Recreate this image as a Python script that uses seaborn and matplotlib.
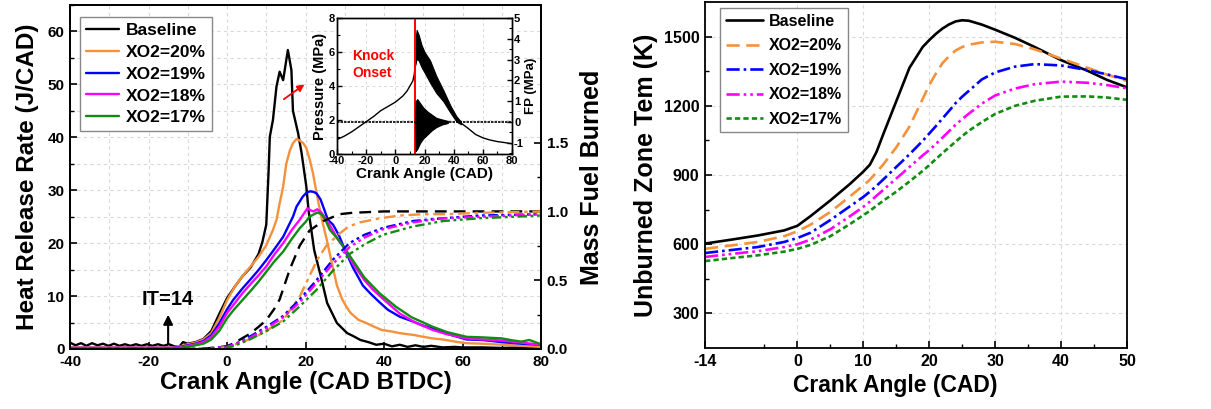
import matplotlib
matplotlib.use("Agg")
import matplotlib.pyplot as plt
from matplotlib.ticker import MultipleLocator, FixedLocator, FormatStrFormatter
import seaborn as sns

# ---------------- data ----------------
labels = ["Baseline", "XO2=20%", "XO2=19%", "XO2=18%", "XO2=17%"]
colors = ["#000000", "#F5913B", "#0000FF", "#FF00FF", "#118C11"]

# Heat release rate (J/CAD)
hrr_base_x = [-40, -38.6, -37.2, -35.8, -34.4, -33, -31.6, -30.2, -28.8, -27.4, -26, -24.6, -23.2, -21.8,
              -20.4, -19, -17.6, -16.2, -14.8, -13.4, -12.2, -11.2, -10, -8, -6, -4, -2, 0, 2, 4, 6, 8, 9, 10,
              10.6, 10.9, 11.7, 12.6, 13.4, 14.3, 15.5, 16.4, 16.8, 18.1, 19, 20.2, 20.8, 22.2, 23.9, 25.5,
              28, 30.6, 32, 34, 36, 38, 40, 42, 44, 46, 48, 50, 52, 55, 58, 60, 65, 70, 75, 80]
hrr_base_y = [1.2, 0.7, 1.1, 0.6, 1.1, 0.7, 1.0, 0.6, 1.0, 0.6, 0.9, 0.6, 0.9, 0.6, 0.9, 0.6, 0.9, 0.6, 0.9, 0.5,
              0.4, 1.3, 1.0, 1.3, 1.9, 3.4, 6.6, 9.6, 11.8, 13.8, 15.4, 17.9, 20.2, 23.5,
              33.8, 40.1, 43.3, 49.6, 52.4, 50.8, 56.5, 52.7, 45.0, 40.8, 37.0, 30.7, 26.0, 18.7, 13.7, 8.7,
              4.9, 3.0, 2.5, 1.7, 1.3, 0.8, 1.0, 0.5, 0.8, 0.4, 0.7, 0.4, 0.6, 0.3, 0.4, 0.3, 0.3, 0.2, 0.3, 0.2]

hrr_20_x = [-40, -30, -20, -14, -12, -10, -8, -6, -4, -2, 0, 2, 4, 6, 8, 10, 11.7, 12.6, 13.4, 14.3,
            15.1, 16, 16.8, 17.7, 18.5, 19.4, 20.2, 21.1, 21.9, 22.8, 24, 25.3, 26.9, 28, 29.4, 30.4, 31.5,
            33.5, 35.5, 37.5, 39.4, 42, 44, 46, 48, 50, 52.4, 55, 58, 61, 65, 70, 75, 80]
hrr_20_y = [0.3, 0.3, 0.3, 0.3, 0.5, 0.9, 1.2, 1.8, 3.0, 5.8, 9.2, 11.8, 13.8, 15.6, 17.4, 19.6, 22.5, 24.4, 27.5, 30.7,
            35.0, 37.5, 38.9, 39.7, 39.4, 38.9, 38.0, 35.7, 33.2, 29.5, 25.0, 21.0, 15.6, 12.0, 9.3, 8.0, 6.8,
            5.5, 4.9, 4.2, 3.6, 3.3, 3.0, 2.8, 2.6, 2.3, 2.0, 1.8, 1.4, 1.1, 1.0, 0.8, 0.6, 0.4]

hrr_19_x = [-40, -20, -14, -12, -10, -8, -6, -4, -2, 0, 1.6, 4, 5.8, 8, 10, 12, 14.3, 16.8, 17.7, 19.3,
            20.2, 21.1, 22, 22.8, 23.8, 24.5, 25.7, 27, 28.5, 30, 32, 34.6, 36.5, 38.9, 41, 44, 47, 50, 52.4, 56,
            61, 65, 70, 75, 80]
hrr_19_y = [0.2, 0.2, 0.2, 0.4, 0.7, 1.0, 1.5, 2.6, 4.8, 7.5, 9.3, 11.5, 13.0, 14.9, 16.8, 18.8, 21.2, 25.0, 26.9, 28.8,
            29.5, 29.8, 29.7, 29.4, 28.3, 26.9, 24.4, 23.5, 21.5, 18.8, 15.5, 12.0, 10.5, 8.8, 7.4, 6.1, 5.3, 4.4, 3.9, 2.9,
            1.8, 1.7, 1.3, 1.0, 0.8]

hrr_18_x = [-40, -20, -14, -12, -10, -8, -6, -4, -2, 0, 1.6, 4, 5.8, 8, 10, 12, 14.3, 16.5, 18.5, 19.5,
            20.5, 21.3, 22, 23, 24, 25, 26.5, 28, 30, 32, 35, 37.2, 40, 44, 48, 52.4, 56, 61, 65, 70, 75, 80]
hrr_18_y = [0.2, 0.2, 0.2, 0.3, 0.6, 0.9, 1.3, 2.3, 4.2, 6.8, 8.3, 10.6, 12.1, 13.9, 15.6, 17.8, 20.0, 22.5, 24.4, 25.5,
            26.6, 26.2, 26.0, 26.4, 25.8, 24.8, 23.0, 21.0, 18.9, 16.2, 13.0, 11.2, 9.3, 6.7, 5.0, 3.6, 2.8, 2.0, 1.8, 1.6,
            1.2, 0.8]

hrr_17_x = [-40, -20, -14, -12, -10, -8, -6, -4, -2, 0, 1.6, 4, 5.8, 8, 10, 12, 14.3, 16.5, 18.5, 20,
            21, 22, 23, 24, 25, 26.2, 28, 30, 32, 35, 38.9, 43, 47, 52.4, 56, 61, 65, 70, 73, 75, 77, 80]
hrr_17_y = [0.1, 0.1, 0.1, 0.2, 0.4, 0.7, 1.0, 1.8, 3.4, 5.8, 7.3, 9.3, 10.8, 12.7, 14.6, 16.5, 18.4, 20.8, 22.8, 24.0,
            25.0, 25.4, 25.8, 25.5, 24.5, 22.5, 21.0, 19.0, 16.8, 13.5, 10.5, 8.0, 6.0, 4.2, 3.2, 2.3, 2.2, 2.0, 1.6, 1.4,
            1.7, 0.9]

# Mass fuel burned (-)
mfb_base_x = [-40, -10, -5, 0, 1.6, 4, 5.8, 8, 10, 12, 13.4, 16, 18.5, 21, 24.5, 28.7, 32, 40, 50, 60, 70, 80]
mfb_base_y = [0, 0, 0.005, 0.02, 0.04, 0.08, 0.11, 0.16, 0.21, 0.29, 0.36, 0.58, 0.75, 0.86, 0.93, 0.98, 0.99,
              1.0, 1.0, 1.0, 1.0, 1.0]
mfb_20_x = [-40, -5, 0, 4, 8, 10, 12, 14.3, 16, 18.5, 21, 23, 25.3, 28.7, 31, 33.8, 38.9, 44, 50, 55.8, 65, 80]
mfb_20_y = [0, 0, 0.015, 0.05, 0.10, 0.13, 0.17, 0.21, 0.28, 0.38, 0.53, 0.65, 0.75, 0.84, 0.89, 0.92, 0.95,
            0.97, 0.98, 0.98, 0.99, 1.0]
mfb_x = [-40, -5, 0, 1.6, 5.8, 10, 14.3, 18.5, 22.8, 27, 31.2, 35, 39.7, 47.3, 55, 64.3, 80]
mfb_19 = [0, 0, 0.02, 0.03, 0.09, 0.16, 0.24, 0.36, 0.50, 0.65, 0.77, 0.83, 0.88, 0.93, 0.95, 0.97, 0.98]
mfb_18 = [0, 0, 0.015, 0.03, 0.08, 0.15, 0.23, 0.34, 0.48, 0.62, 0.74, 0.81, 0.87, 0.92, 0.95, 0.96, 0.98]
mfb_17 = [0, 0, 0.01, 0.02, 0.07, 0.13, 0.20, 0.31, 0.43, 0.57, 0.69, 0.76, 0.83, 0.89, 0.93, 0.95, 0.97]

# Inset: cylinder pressure (MPa) and filtered pressure FP (MPa)
p_pre_x = [-40, -35, -30, -25, -20, -15, -10, -5, 0, 5, 8, 10, 12, 13, 13.5]
p_pre_y = [0.85, 1.05, 1.3, 1.6, 1.9, 2.2, 2.55, 2.8, 3.05, 3.4, 3.7, 4.0, 4.3, 4.7, 5.2]
p_band_x = [13.5, 14, 14.6, 16, 18, 20, 23.8, 28, 32.9, 38, 42, 45]
p_band_hi = [5.2, 6.8, 7.3, 7.0, 6.4, 6.0, 5.5, 4.6, 3.75, 2.8, 2.2, 1.9]
p_band_lo = [5.2, 5.4, 5.6, 5.5, 5.1, 4.8, 4.2, 3.6, 3.1, 2.4, 1.9, 1.75]
p_post_x = [45, 50, 55, 60, 65, 70, 75, 80]
p_post_y = [1.82, 1.5, 1.15, 0.95, 0.82, 0.73, 0.67, 0.6]
fp_x = [-40, 13.5, 36, 80]
fp_y = [0, 0, 0, 0]
fp_band_x = [13.5, 14, 15, 17, 19, 22, 25, 28, 32, 36]
fp_band_hi = [0.1, 1.0, 1.1, 0.9, 0.7, 0.5, 0.35, 0.2, 0.12, 0.05]
fp_band_lo = [-0.1, -1.4, -1.3, -1.0, -0.8, -0.6, -0.4, -0.25, -0.12, -0.05]
knock_onset = 13.5
ignition = -15

# Unburned zone temperature (K)
t_x = [-14, -10, -6, -2, 0, 2, 5, 8, 10, 11, 12, 13, 15, 17, 19, 20, 21, 22, 23, 24, 25, 26, 28, 30, 33, 36,
       40, 44, 47, 50]
t_base = [603, 620, 638, 660, 680, 722, 790, 862, 915, 945, 1000, 1075, 1220, 1365, 1455, 1485, 1512, 1535,
          1553, 1566, 1571, 1569, 1552, 1530, 1495, 1455, 1398, 1352, 1312, 1280]
t_20 = [580, 595, 610, 635, 656, 685, 740, 808, 855, 880, 912, 945, 1020, 1110, 1230, 1290, 1340, 1385,
        1415, 1440, 1455, 1465, 1475, 1478, 1468, 1445, 1405, 1365, 1335, 1308]
t_19 = [562, 575, 588, 610, 627, 650, 705, 765, 805, 828, 853, 880, 935, 990, 1048, 1080, 1112, 1145,
        1178, 1212, 1240, 1265, 1315, 1345, 1370, 1381, 1375, 1355, 1336, 1315]
t_18 = [545, 558, 570, 588, 600, 620, 665, 722, 762, 785, 810, 835, 885, 935, 985, 1008, 1035, 1062,
        1090, 1118, 1143, 1166, 1210, 1245, 1275, 1294, 1305, 1300, 1290, 1276]
t_17 = [527, 540, 552, 568, 580, 597, 635, 688, 726, 745, 767, 788, 828, 872, 918, 943, 969, 995,
        1020, 1045, 1069, 1092, 1130, 1165, 1200, 1222, 1240, 1241, 1236, 1226]

# ---------------- style ----------------
sns.set_style("ticks")
plt.rcParams.update({
    "font.family": ["Liberation Sans", "DejaVu Sans"],
    "font.weight": "bold",
    "axes.labelweight": "bold",
    "axes.unicode_minus": False,
    "axes.edgecolor": "black",
    "axes.labelcolor": "black",
    "text.color": "black",
    "xtick.color": "black",
    "ytick.color": "black",
    "axes.linewidth": 1.3,
    "xtick.direction": "in",
    "ytick.direction": "in",
    "xtick.major.width": 1.2, "ytick.major.width": 1.2,
    "xtick.minor.width": 1.0, "ytick.minor.width": 1.0,
    "xtick.major.size": 5, "ytick.major.size": 5,
    "xtick.minor.size": 3, "ytick.minor.size": 3,
})
grid_kw = dict(ls=(0, (3, 3)), color="#d9d9d9", lw=0.8)

fig = plt.figure(figsize=(12.11, 4.09), dpi=100)

# ---------------- left panel ----------------
ax1 = fig.add_axes([0.0578, 0.1467, 0.389, 0.841])
ax2 = ax1.twinx()
ax1.set_axisbelow(True)

hrr_sets = [(hrr_base_x, hrr_base_y), (hrr_20_x, hrr_20_y), (hrr_19_x, hrr_19_y),
            (hrr_18_x, hrr_18_y), (hrr_17_x, hrr_17_y)]
for (xs, ys), lab, col in zip(hrr_sets, labels, colors):
    sns.lineplot(x=xs, y=ys, ax=ax1, color=col, lw=1.7, label=lab, legend=False, estimator=None)

mfb_sets = [(mfb_base_x, mfb_base_y, (0, (5, 3))),
            (mfb_20_x, mfb_20_y, (0, (5, 2, 1.5, 2))),
            (mfb_x, mfb_19, (0, (4, 1.5, 1.2, 1.5, 1.2, 1.5))),
            (mfb_x, mfb_18, (0, (4, 1.5, 1.2, 1.5, 1.2, 1.5))),
            (mfb_x, mfb_17, (0, (4, 1.5, 1.2, 1.5, 1.2, 1.5)))]
for (xs, ys, ls), col in zip(mfb_sets, colors):
    sns.lineplot(x=xs, y=ys, ax=ax2, color=col, lw=1.7, linestyle=ls, legend=False, estimator=None)

ax1.set_xlim(-40, 80)
ax1.set_ylim(0, 65)
ax2.set_ylim(0, 2.5)
ax1.xaxis.set_major_locator(MultipleLocator(20))
ax1.xaxis.set_minor_locator(MultipleLocator(10))
ax1.yaxis.set_major_locator(MultipleLocator(10))
ax1.yaxis.set_minor_locator(MultipleLocator(5))
ax2.yaxis.set_major_locator(FixedLocator([0, 0.5, 1.0, 1.5]))
ax2.yaxis.set_minor_locator(FixedLocator([0.25, 0.75, 1.25]))
ax2.yaxis.set_major_formatter(FormatStrFormatter("%.1f"))
ax1.grid(which="both", **grid_kw)
for a in (ax1, ax2):
    a.tick_params(which="both", labelsize=11, pad=4)
ax1.set_xlabel("Crank Angle (CAD BTDC)", fontsize=17.5, labelpad=2)
ax1.set_ylabel("Heat Release Rate (J/CAD)", fontsize=17.5, labelpad=6)
ax2.set_ylabel("Mass Fuel Burned", fontsize=18, labelpad=9)

ax1.annotate("", xy=(ignition, 7.0), xytext=(ignition, 0.4),
             arrowprops=dict(arrowstyle="-|>", color="black", lw=1.5, mutation_scale=14))
ax1.text(ignition, 7.6, "IT=14", ha="center", va="bottom", fontsize=14.5, fontweight="bold")
ax1.annotate("", xy=(20.3, 50.3), xytext=(13.9, 46.9),
             arrowprops=dict(arrowstyle="-|>", color="red", lw=1.3, mutation_scale=10))

h, l = ax1.get_legend_handles_labels()
leg = ax2.legend(h, l, loc="upper left", bbox_to_anchor=(0.021, 0.965), borderaxespad=0,
                 fontsize=12.5, handlelength=1.9, handletextpad=0.4, labelspacing=0.38,
                 borderpad=0.35, fancybox=False, framealpha=1, edgecolor="#888888")
leg.get_frame().set_linewidth(1.0)

# ---------------- inset ----------------
ins = fig.add_axes([0.2783, 0.6235, 0.1445, 0.3325])
ins.set_facecolor("white")
ins2 = ins.twinx()
ins.set_axisbelow(True)
sns.lineplot(x=p_pre_x, y=p_pre_y, ax=ins, color="black", lw=1.0, legend=False, estimator=None)
sns.lineplot(x=p_post_x, y=p_post_y, ax=ins, color="black", lw=1.0, legend=False, estimator=None)
ins.fill_between(p_band_x, p_band_lo, p_band_hi, color="black", lw=0.8)
sns.lineplot(x=fp_x, y=fp_y, ax=ins2, color="black", lw=1.2, linestyle=(0, (1.5, 0.6)), legend=False,
             estimator=None)
ins2.fill_between(fp_band_x, fp_band_lo, fp_band_hi, color="black", lw=0.8)
ins.axvline(knock_onset, color="red", lw=1.4, zorder=5)
ins.text(-29.5, 5.75, "Knock", color="red", fontsize=10, fontweight="bold", va="center")
ins.text(-29.5, 4.75, "Onset", color="red", fontsize=10, fontweight="bold", va="center")
ins.set_xlim(-40, 80)
ins.set_ylim(0, 8)
ins2.set_ylim(-1.54, 5)
ins.xaxis.set_major_locator(MultipleLocator(20))
ins.xaxis.set_minor_locator(MultipleLocator(10))
ins.yaxis.set_major_locator(MultipleLocator(2))
ins.yaxis.set_minor_locator(MultipleLocator(1))
ins2.yaxis.set_major_locator(MultipleLocator(1))
ins2.yaxis.set_minor_locator(MultipleLocator(0.5))
ins.grid(which="major", ls=(0, (3, 3)), color="#d9d9d9", lw=0.7)
for a in (ins, ins2):
    a.tick_params(which="both", labelsize=8, pad=1.5)
    a.tick_params(which="major", length=3.5, width=1.0)
    a.tick_params(which="minor", length=2, width=0.8)
    for s in a.spines.values():
        s.set_linewidth(1.0)
ins.set_xlabel("Crank Angle (CAD)", fontsize=11, labelpad=1)
ins.set_ylabel("Pressure (MPa)", fontsize=10.5, labelpad=1)
ins2.set_ylabel("FP (MPa)", fontsize=9.5, labelpad=1)

# ---------------- right panel ----------------
ax3 = fig.add_axes([0.5822, 0.149, 0.3485, 0.846])
ax3.set_axisbelow(True)
t_sets = [(t_base, "-"), (t_20, (0, (5, 2.5))), (t_19, (0, (5, 1.5, 1, 1.5))),
          (t_18, (0, (5, 1.5, 1, 1.5, 1, 1.5))), (t_17, (0, (2, 1.2)))]
for (ys, ls), lab, col in zip(t_sets, labels, colors):
    sns.lineplot(x=t_x, y=ys, ax=ax3, color=col, lw=1.9, linestyle=ls, label=lab, legend=False,
                 estimator=None)
ax3.set_xlim(-14, 50)
ax3.set_ylim(150, 1650)
ax3.xaxis.set_major_locator(FixedLocator([-14, 0, 10, 20, 30, 40, 50]))
ax3.xaxis.set_minor_locator(FixedLocator([-5, 5, 15, 25, 35, 45]))
ax3.yaxis.set_major_locator(FixedLocator([300, 600, 900, 1200, 1500]))
ax3.yaxis.set_minor_locator(FixedLocator([450, 750, 1050, 1350]))
ax3.grid(which="major", **grid_kw)
ax3.tick_params(which="both", labelsize=11.5, pad=4)
ax3.set_xlabel("Crank Angle (CAD)", fontsize=16.5, labelpad=2)
ax3.xaxis.set_label_coords(0.45, -0.075, transform=ax3.transAxes)
ax3.xaxis.label.set_verticalalignment("top")
ax3.set_ylabel("Unburned Zone Tem (K)", fontsize=18, labelpad=4)
h3, l3 = ax3.get_legend_handles_labels()
leg3 = ax3.legend(h3, l3, loc="upper left", bbox_to_anchor=(0.036, 0.983), borderaxespad=0,
                  fontsize=11.5, handlelength=2.3, handletextpad=0.4, labelspacing=0.6,
                  borderpad=0.35, fancybox=False, framealpha=1, edgecolor="#888888")
leg3.get_frame().set_linewidth(1.0)

fig.savefig("out.png", dpi=100)
